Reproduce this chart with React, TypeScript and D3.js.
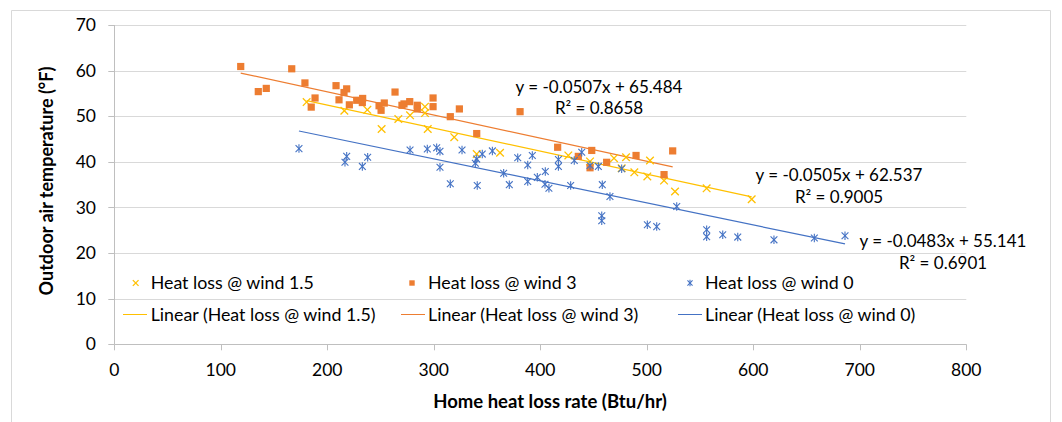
import React from "react";
import * as d3 from "d3";

// Heat loss @ wind 1.5 (yellow x markers)
const wind15: [number, number][] = [
  [180.6, 53.1], [216, 51.2], [237.6, 51.4], [251, 47.2], [266.7, 49.4], [277.7, 50.2],
  [291.7, 52.1], [291.7, 50.7], [294.3, 47.2], [319.2, 45.4], [340.3, 41.7], [362.2, 42.0],
  [426.3, 41.4], [446.7, 40.1], [469.2, 40.8], [480.5, 41.0], [476.4, 38.6], [488.3, 37.7],
  [500.5, 36.8], [503, 40.3], [516.2, 35.9], [526.5, 33.5], [556.2, 34.2], [598.5, 31.8],
];

// Heat loss @ wind 3 (orange squares)
const wind3: [number, number][] = [
  [118.7, 60.9], [166.6, 60.4], [135.2, 55.4], [142.7, 56.1], [179, 57.3], [188.5, 54.0],
  [184.9, 52.0], [208.2, 56.7], [218.2, 56], [215.7, 55.2], [211, 53.6], [220.7, 52.5],
  [227.6, 53.5], [233.2, 53.9], [232.9, 53.0], [248.6, 52.3], [250.5, 51.3], [253.5, 52.9],
  [263.6, 55.3], [270.1, 52.4], [272, 52.7], [277.4, 53.2], [284.5, 52.4], [284.5, 51.6],
  [299.3, 54.0], [299.3, 52.1], [315.5, 49.9], [324, 51.6], [381, 51.0], [340.3, 46.2],
  [416.3, 43.2], [435.7, 41.2], [448.3, 42.5], [446.7, 38.7], [462.3, 39.9], [489.9, 41.4],
  [516.2, 37.2], [524.3, 42.4],
];

// Heat loss @ wind 0 (blue star markers)
const wind0: [number, number][] = [
  [173.4, 42.9], [218.2, 41.2], [216.6, 39.9], [232.9, 39.0], [237.9, 41.0], [277.7, 42.6],
  [293.9, 42.8], [302.7, 43.1], [305.8, 42.3], [305.8, 38.8], [315.5, 35.2], [326.5, 42.6],
  [339, 39.7], [340.3, 40.6], [345.5, 41.7], [340.8, 34.8], [355, 42.4], [365.6, 37.5],
  [370.9, 35.0], [378.8, 40.9], [388.2, 39.3], [388.2, 35.7], [392.5, 41.4], [397.2, 36.6],
  [404.7, 37.9], [404.4, 35.1], [408.1, 34.2], [417, 40.5], [417, 39.0], [428.5, 34.8],
  [431.9, 40.3], [438.9, 42.1], [446.7, 39.2], [454.5, 39.0], [458.2, 35.0], [465.4, 32.4],
  [457.7, 28.2], [457.7, 27.1], [476.4, 38.5], [500.5, 26.2], [509.3, 25.8], [528.1, 30.2],
  [556.2, 25.1], [556.2, 23.6], [571.3, 24.0], [585.4, 23.5], [619.4, 22.9], [657.3, 23.3],
  [686.1, 23.8],
];

const seriesNames = ["Heat loss @ wind 1.5", "Heat loss @ wind 3", "Heat loss @ wind 0"];
const trendSlopes = [-0.0505, -0.0507, -0.0483];
const trendIntercepts = [62.537, 65.484, 55.141];
const trendEquations = ["y = -0.0505x + 62.537", "y = -0.0507x + 65.484", "y = -0.0483x + 55.141"];
const trendR2 = ["R² = 0.9005", "R² = 0.8658", "R² = 0.6901"];

const xTicks = [0, 100, 200, 300, 400, 500, 600, 700, 800];
const yTicks = [0, 10, 20, 30, 40, 50, 60, 70];

const COLORS = ["#FFC000", "#ED7D31", "#4472C4"];
const FONT = "Lato, 'Open Sans', sans-serif";

const W = 1062;
const H = 422;
const plot = { left: 114.3, right: 966.3, top: 25, bottom: 344.3 };

function Marker({ kind, x, y, s = 1 }: { kind: number; x: number; y: number; s?: number }) {
  const c = COLORS[kind];
  if (kind === 0) {
    const r = 3.8 * s;
    return (
      <g stroke={c} strokeWidth={1.3}>
        <line x1={x - r} y1={y - r} x2={x + r} y2={y + r} />
        <line x1={x - r} y1={y + r} x2={x + r} y2={y - r} />
      </g>
    );
  }
  if (kind === 1) {
    const r = 3.6 * s;
    return <rect x={x - r} y={y - r} width={2 * r} height={2 * r} fill={c} />;
  }
  const r = 3.4 * s;
  return (
    <g stroke={c} strokeWidth={1.1}>
      <line x1={x - r} y1={y - r} x2={x + r} y2={y + r} />
      <line x1={x - r} y1={y + r} x2={x + r} y2={y - r} />
      <line x1={x} y1={y - r * 1.25} x2={x} y2={y + r * 1.25} />
    </g>
  );
}

export default function App() {
  const x = d3.scaleLinear().domain([0, 800]).range([plot.left, plot.right]);
  const y = d3.scaleLinear().domain([0, 70]).range([plot.bottom, plot.top]);
  const all = [wind15, wind3, wind0];

  const eqPos = [
    { cx: 839, y1: 175, y2: 197.5 },
    { cx: 599, y1: 86.7, y2: 108.5 },
    { cx: 943, y1: 241, y2: 263.5 },
  ];

  const legendRow1 = [
    { mx: 135.7, tx: 150.7 },
    { mx: 412, tx: 428 },
    { mx: 690, tx: 705 },
  ];
  const legendRow2 = [
    { lx1: 123, lx2: 147, tx: 150.7 },
    { lx1: 401, lx2: 425, tx: 428 },
    { lx1: 678, lx2: 702, tx: 705 },
  ];

  return (
    <svg
      width={W}
      height={H}
      style={{ position: "absolute", left: 0, top: 0, background: "#fff" }}
      fontFamily={FONT}
    >
      <rect x={0} y={0} width={W} height={H} fill="#fff" />
      {/* chart frame */}
      <line x1={11.5} y1={10.5} x2={1050.5} y2={10.5} stroke="#d9d9d9" />
      <line x1={11.5} y1={10.5} x2={11.5} y2={H} stroke="#d9d9d9" />
      <line x1={1050.5} y1={10.5} x2={1050.5} y2={H} stroke="#d9d9d9" />

      {/* gridlines */}
      {yTicks.filter((t) => t > 0).map((t) => (
        <line key={t} x1={plot.left} x2={plot.right} y1={Math.round(y(t)) + 0.5} y2={Math.round(y(t)) + 0.5} stroke="#d9d9d9" />
      ))}
      {/* axes */}
      <line x1={Math.round(plot.left) + 0.5} x2={Math.round(plot.left) + 0.5} y1={plot.top} y2={plot.bottom} stroke="#bfbfbf" />
      <line x1={plot.left} x2={plot.right} y1={Math.round(plot.bottom) + 0.5} y2={Math.round(plot.bottom) + 0.5} stroke="#bfbfbf" />
      {yTicks.map((t) => (
        <g key={t}>
          <line x1={plot.left - 6} x2={plot.left} y1={Math.round(y(t)) + 0.5} y2={Math.round(y(t)) + 0.5} stroke="#bfbfbf" />
          <text x={96} y={y(t)} dy="0.35em" textAnchor="end" fontSize={17.5} fill="#000">
            {t}
          </text>
        </g>
      ))}
      {xTicks.map((t) => (
        <g key={t}>
          <line x1={Math.round(x(t)) + 0.5} x2={Math.round(x(t)) + 0.5} y1={plot.bottom} y2={plot.bottom + 6} stroke="#bfbfbf" />
          <text x={x(t)} y={370} dy="0.35em" textAnchor="middle" fontSize={17.5} fill="#000">
            {t}
          </text>
        </g>
      ))}

      {/* axis titles */}
      <text x={550} y={402} dy="0.35em" textAnchor="middle" fontSize={18.5} fontWeight="bold" fill="#000">
        Home heat loss rate (Btu/hr)
      </text>
      <text
        transform={`translate(47,181) rotate(-90)`}
        dy="0.35em"
        textAnchor="middle"
        fontSize={18}
        fontWeight="bold"
        fill="#000"
      >
        Outdoor air temperature (°F)
      </text>

      {/* legend */}
      {seriesNames.map((n, i) => (
        <g key={"l1" + i}>
          <Marker kind={i} x={legendRow1[i].mx} y={283} s={0.75} />
          <text x={legendRow1[i].tx} y={283} dy="0.35em" fontSize={17.8} fill="#000">
            {n}
          </text>
          <line x1={legendRow2[i].lx1} x2={legendRow2[i].lx2} y1={314.5} y2={314.5} stroke={COLORS[i]} strokeWidth={1} />
          <text x={legendRow2[i].tx} y={314.5} dy="0.35em" fontSize={17.8} fill="#000">
            {`Linear (${n})`}
          </text>
        </g>
      ))}

      {/* trendlines */}
      {all.map((data, i) => {
        const ext = d3.extent(data, (d) => d[0]) as [number, number];
        const f = (v: number) => trendSlopes[i] * v + trendIntercepts[i];
        return (
          <line
            key={"t" + i}
            x1={x(ext[0])}
            y1={y(f(ext[0]))}
            x2={x(ext[1])}
            y2={y(f(ext[1]))}
            stroke={COLORS[i]}
            strokeWidth={1.2}
          />
        );
      })}

      {/* points */}
      {all.map((data, i) => (
        <g key={"p" + i}>
          {data.map((d, j) => (
            <Marker key={j} kind={i} x={x(d[0])} y={y(d[1])} />
          ))}
        </g>
      ))}

      {/* trendline equations */}
      {eqPos.map((p, i) => (
        <g key={"e" + i} fontSize={17} fill="#000">
          <text x={p.cx} y={p.y1} dy="0.35em" textAnchor="middle">
            {trendEquations[i]}
          </text>
          <text x={p.cx} y={p.y2} dy="0.35em" textAnchor="middle">
            {trendR2[i]}
          </text>
        </g>
      ))}
    </svg>
  );
}
